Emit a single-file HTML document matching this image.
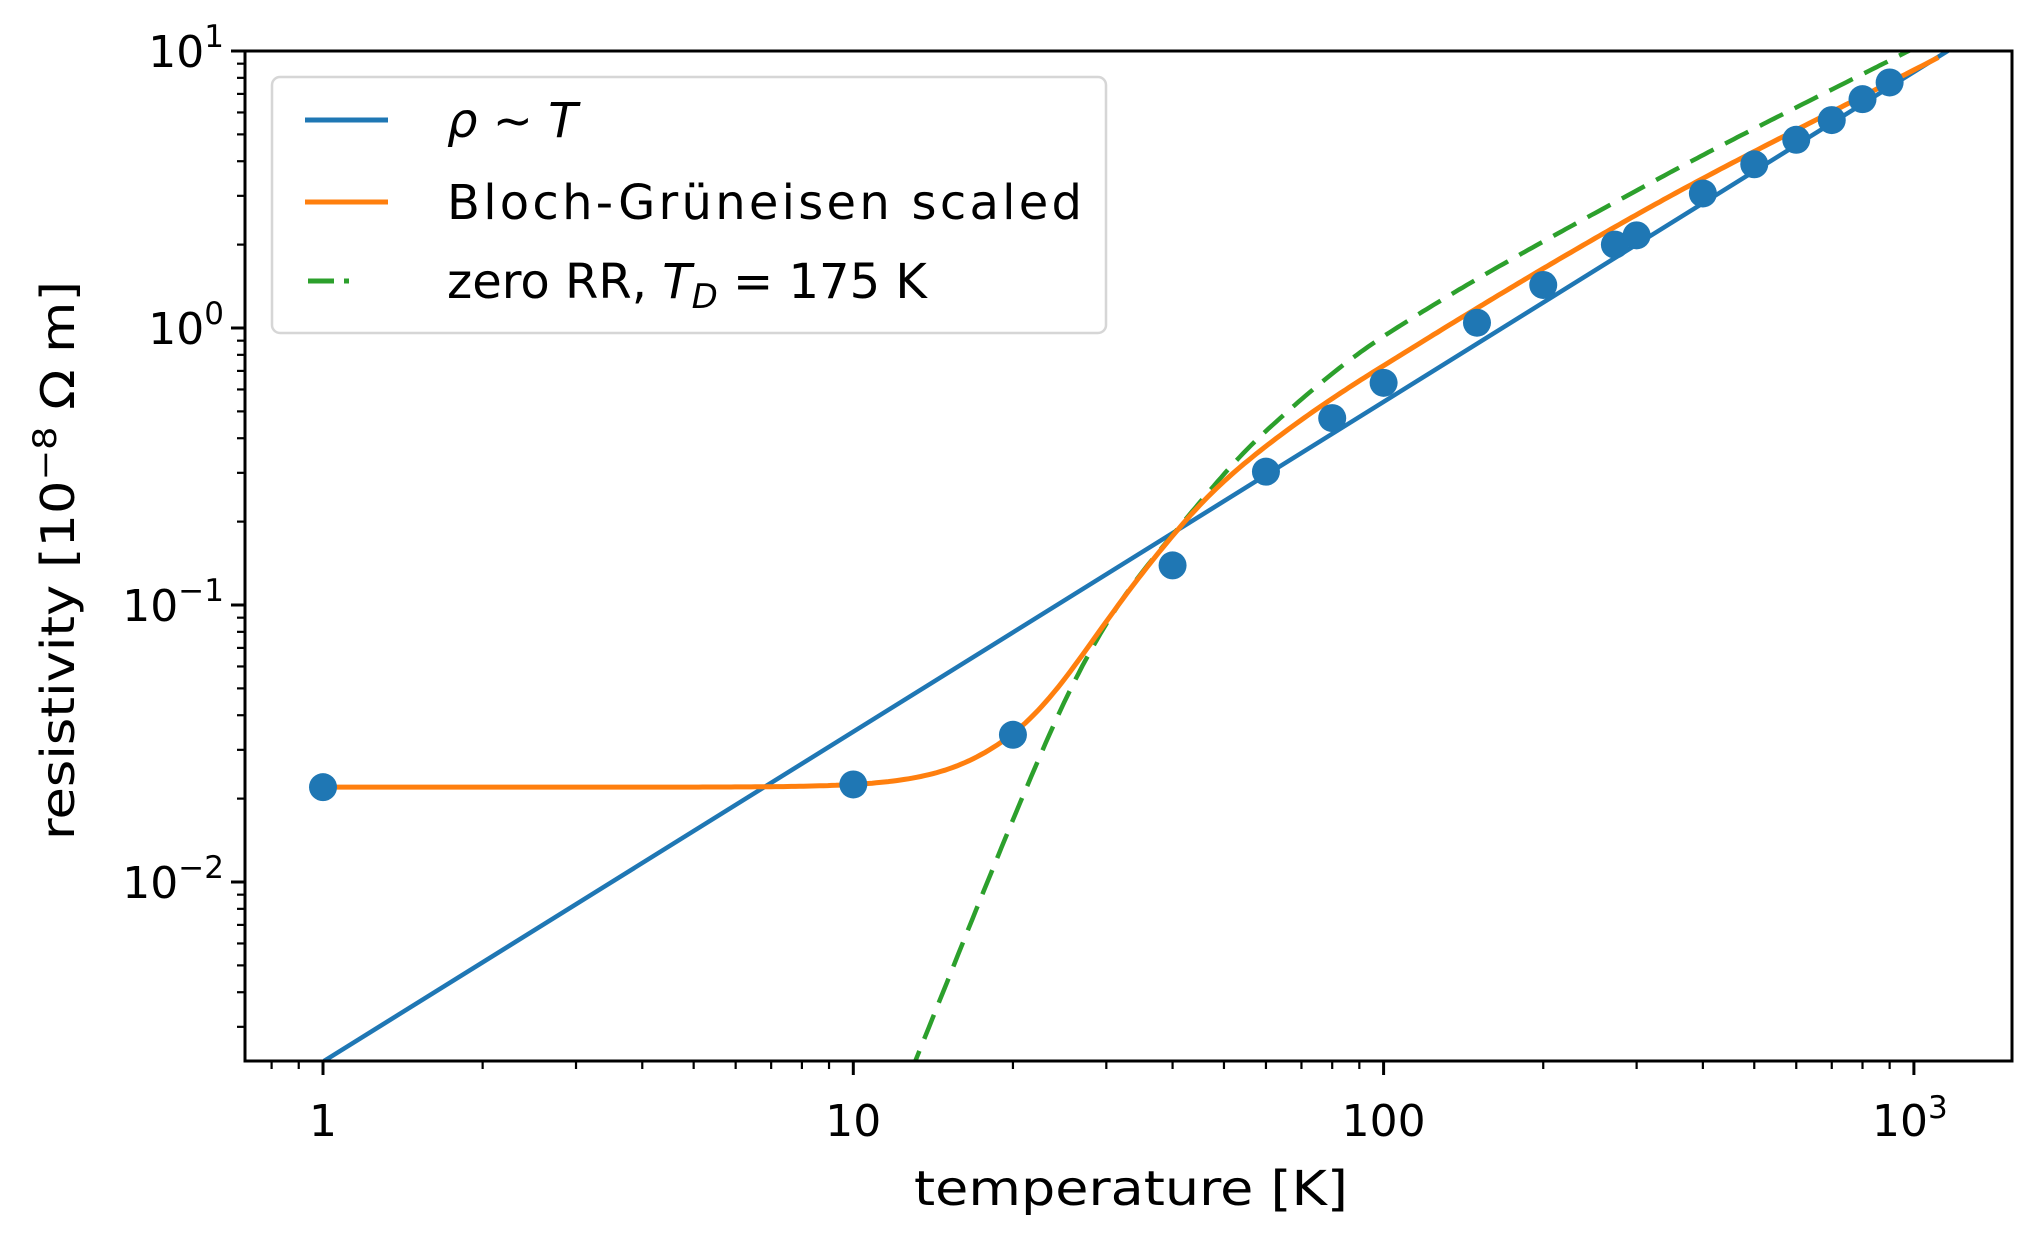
<!DOCTYPE html>
<html><head><meta charset="utf-8"><style>
html,body{margin:0;padding:0;background:#fff;}
svg{display:block;}
text{font-family:"DejaVu Sans","Liberation Sans",sans-serif;fill:#000;}
</style></head><body>
<svg id="s" width="2038" height="1233" xmlns="http://www.w3.org/2000/svg">
<defs><clipPath id="c"><rect x="245" y="51" width="1767" height="1010"/></clipPath></defs>
<g id="plot" clip-path="url(#c)"></g>
<rect x="245" y="51" width="1767" height="1010" fill="none" stroke="#000" stroke-width="3"/>
<g id="ticks"></g>
<g id="legend">
<rect x="272" y="77" width="834" height="256" rx="8" fill="#fff" fill-opacity="0.8" stroke="#d6d6d6" stroke-width="2.5"/>
<line x1="305" y1="120" x2="388" y2="120" stroke="#1f77b4" stroke-width="5"/>
<line x1="305" y1="202" x2="388" y2="202" stroke="#ff7f0e" stroke-width="5"/>
<line x1="308" y1="281" x2="385" y2="281" stroke="#2ca02c" stroke-width="5" stroke-dasharray="26,10,5,100"/>
<text x="447" y="137" font-size="48"><tspan font-style="italic">ρ</tspan> ~ <tspan font-style="italic">T</tspan></text>
<text x="447" y="219" font-size="48" textLength="635">Bloch-Grüneisen scaled</text>
<text x="447" y="298" font-size="48">zero RR, <tspan font-style="italic">T</tspan><tspan font-style="italic" font-size="34" dy="10">D</tspan><tspan dy="-10"> = 175 K</tspan></text>
</g>
<text x="914" y="1205" font-size="48" textLength="434" lengthAdjust="spacingAndGlyphs">temperature [K]</text>
<text transform="translate(74,840) rotate(-90)" font-size="46" textLength="559" lengthAdjust="spacingAndGlyphs">resistivity [10<tspan font-size="32" dy="-18">−8</tspan><tspan dy="18"> Ω m]</tspan></text>
</svg>
<script>
var X0=323,DX=530.3,Y0=51,DY=277;
function px(t){return X0+Math.log10(t)*DX;}
function py(r){return Y0+(1-Math.log10(r))*DY;}
var NS="http://www.w3.org/2000/svg";
function el(p,n,a){var e=document.createElementNS(NS,n);for(var k in a)e.setAttribute(k,a[k]);p.appendChild(e);return e;}
var plot=document.getElementById('plot'),tk=document.getElementById('ticks');
// Catmull-Rom interpolation of points [[x,y]...]
function interp(P,x){var n=P.length;var i=0;while(i<n-2&&x>P[i+1][0])i++;
 var p0=P[Math.max(i-1,0)],p1=P[i],p2=P[i+1],p3=P[Math.min(i+2,n-1)];
 var h=p2[0]-p1[0],t=(x-p1[0])/h;
 var m1=(p2[1]-p0[1])/(p2[0]-p0[0])*h, m2=(p3[1]-p1[1])/(p3[0]-p1[0])*h;
 if(i==0)m1=(p2[1]-p1[1]);if(i+2>n-1)m2=(p2[1]-p1[1]);
 var t2=t*t,t3=t2*t;
 return (2*t3-3*t2+1)*p1[1]+(t3-2*t2+t)*m1+(-2*t3+3*t2)*p2[1]+(t3-t2)*m2;}
// blue line
el(plot,'line',{x1:324,y1:1061,x2:324+(1946-324)*1.05,y2:1061-(1061-52)*1.05,stroke:'#1f77b4','stroke-width':4.5});
// green
var G=[[1.05,-2.98],[1.117,-2.646],[1.367,-1.48],[1.484,-1.047],[1.627,-0.69],[1.772,-0.383],[2.0,-0.03],[2.5,0.52],[3.0,1.01],[3.2,1.2]];
var d='';for(var i=0;i<=300;i++){var lt=1.08+i*(3.15-1.08)/300;var lr=interp(G,lt);d+=(i?'L':'M')+px(Math.pow(10,lt)).toFixed(1)+','+py(Math.pow(10,lr)).toFixed(1);}
el(plot,'path',{d:d,fill:'none',stroke:'#2ca02c','stroke-width':4.5,'stroke-dasharray':'26,13'});
// orange
var O=[[0.0,-7.0],[0.5,-5.7],[1.0,-3.3],[1.2,-2.35],[1.303,-1.9],[1.476,-1.19],[1.627,-0.745],[1.772,-0.463],[2.0,-0.149],[2.5,0.43],[3.046,0.976]];
d='';for(var i=0;i<=400;i++){var lt=i*3.046/400;var r=0.022+Math.pow(10,interp(O,lt));d+=(i?'L':'M')+px(Math.pow(10,lt)).toFixed(1)+','+py(r).toFixed(1);}
el(plot,'path',{d:d,fill:'none',stroke:'#ff7f0e','stroke-width':5});
// points
var pts=[[1,0.022],[10,0.0225],[20,0.034],[40,0.139],[60,0.303],[80,0.473],[100,0.634],[150,1.045],[200,1.43],[273,2.0],[300,2.16],[400,3.06],[500,3.9],[600,4.78],[700,5.63],[800,6.7],[900,7.7]];
pts.forEach(function(p){el(plot,'circle',{cx:px(p[0]),cy:py(p[1]),r:14,fill:'#1f77b4'});});
// x ticks
for(var e=-1;e<=3;e++)for(var m=1;m<10;m++){var t=m*Math.pow(10,e),x=px(t);if(x<246||x>2011)continue;var L=m==1?14:8;el(tk,'line',{x1:x,y1:1061,x2:x,y2:1061+L,stroke:'#000','stroke-width':m==1?3:2.2});}
function lab(x,y,s){var t=el(tk,'text',{x:x,y:y,'font-size':44,'text-anchor':'middle'});t.textContent=s;}
lab(px(1),1136,'1');lab(px(10),1136,'10');lab(px(100),1136,'100');
var t3=el(tk,'text',{x:px(1000)-4,y:1136,'font-size':44,'text-anchor':'middle'});t3.innerHTML='10<tspan font-size="31" dy="-18">3</tspan>';
// y ticks
for(var e=-3;e<=1;e++)for(var m=1;m<10;m++){var r=m*Math.pow(10,e),y=py(r);if(y<50||y>1060)continue;var L=m==1?14:8;el(tk,'line',{x1:245,y1:y,x2:245-L,y2:y,stroke:'#000','stroke-width':m==1?3:2.2});}
[1,0,-1,-2].forEach(function(e){var y=py(Math.pow(10,e));var t=el(tk,'text',{x:224,y:y+16,'font-size':44,'text-anchor':'end'});t.innerHTML='10<tspan font-size="31" dy="-20">'+(e<0?'−'+(-e):e)+'</tspan>';});
</script>
</body></html>
